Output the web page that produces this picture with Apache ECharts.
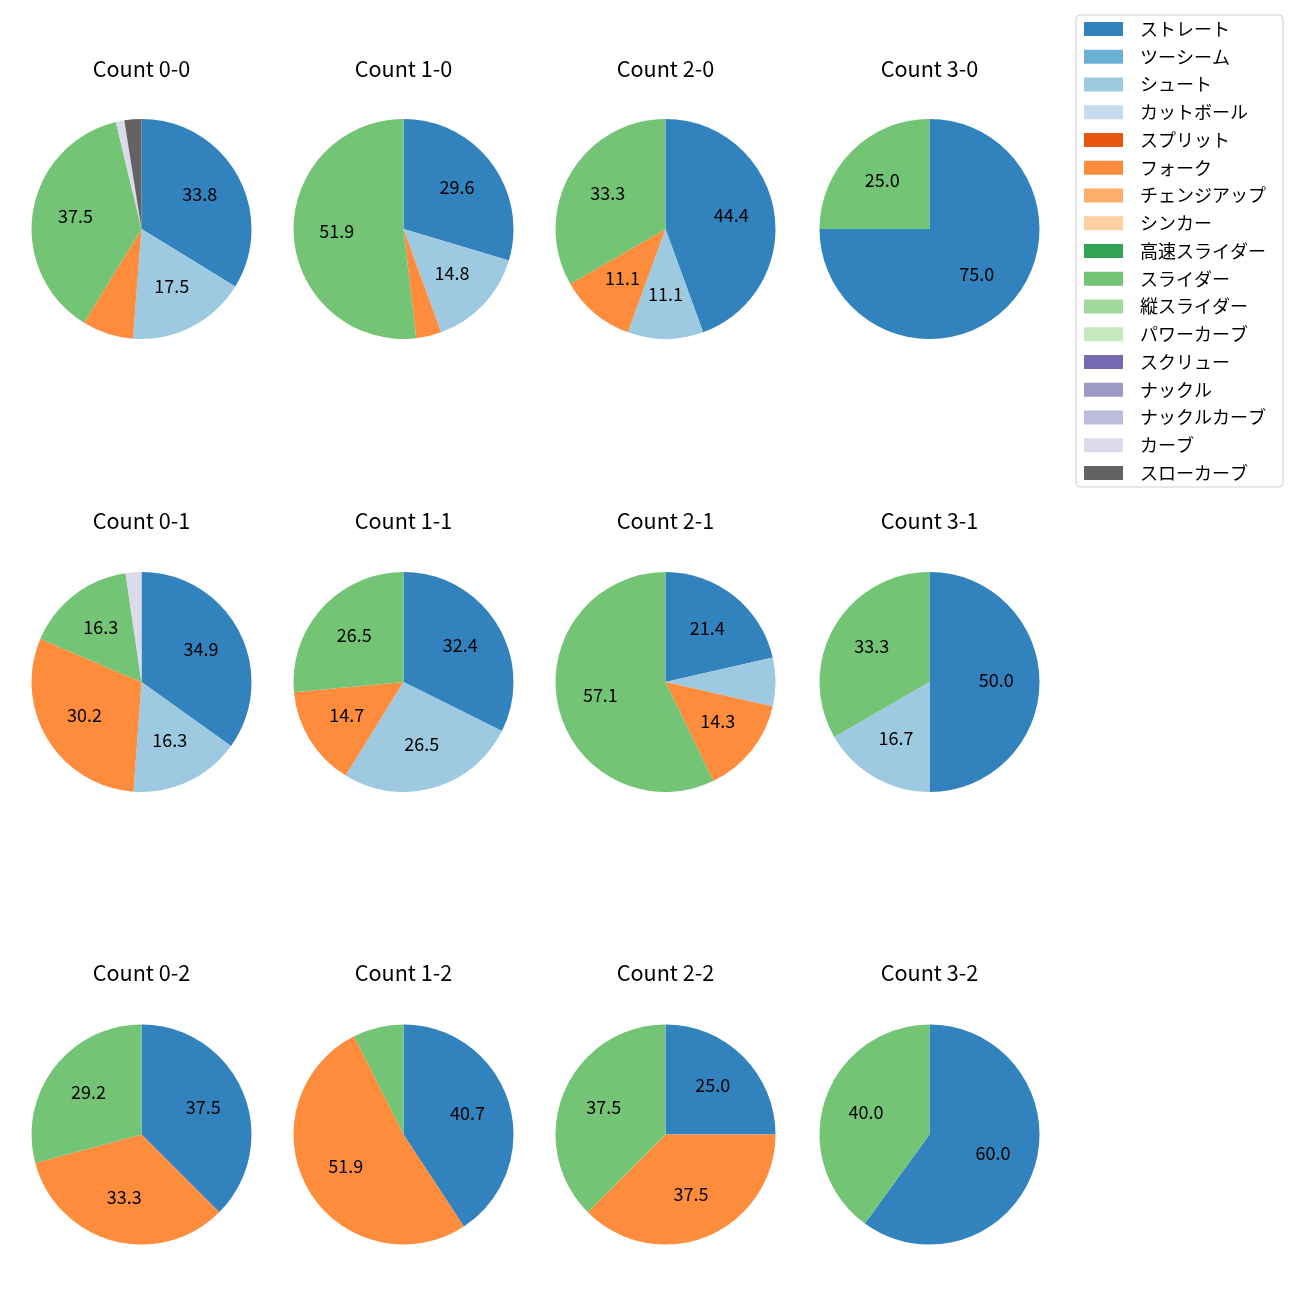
<!DOCTYPE html>
<html>
<head>
<meta charset="utf-8">
<script src="https://cdn.jsdelivr.net/npm/echarts@6/dist/echarts.min.js"></script>
<style>html,body{margin:0;padding:0;background:#fff;}#c{width:1300px;height:1300px;}</style>
</head>
<body>
<div id="c"></div>
<script>
const pitchTypes = ['ストレート','ツーシーム','シュート','カットボール','スプリット','フォーク','チェンジアップ','シンカー','高速スライダー','スライダー','縦スライダー','パワーカーブ','スクリュー','ナックル','ナックルカーブ','カーブ','スローカーブ'];
const colors = ['#3182bd','#6baed6','#9ecae1','#c6dbef','#e6550d','#fd8d3c','#fdae6b','#fdd0a2','#31a354','#74c476','#a1d99b','#c7e9c0','#756bb1','#9e9ac8','#bcbddc','#dadaeb','#636363'];

const countTitles = ['Count 0-0','Count 1-0','Count 2-0','Count 3-0','Count 0-1','Count 1-1','Count 2-1','Count 3-1','Count 0-2','Count 1-2','Count 2-2','Count 3-2'];
//                 St Tw Sh Ct Sp Fk Ch Si HS Sl VS PC Sc Kn KC Cv SC
const count00 = [27, 0,14, 0, 0, 6, 0, 0, 0,30, 0, 0, 0, 0, 0, 1, 2];
const count10 = [ 8, 0, 4, 0, 0, 1, 0, 0, 0,14, 0, 0, 0, 0, 0, 0, 0];
const count20 = [ 4, 0, 1, 0, 0, 1, 0, 0, 0, 3, 0, 0, 0, 0, 0, 0, 0];
const count30 = [ 3, 0, 0, 0, 0, 0, 0, 0, 0, 1, 0, 0, 0, 0, 0, 0, 0];
const count01 = [15, 0, 7, 0, 0,13, 0, 0, 0, 7, 0, 0, 0, 0, 0, 1, 0];
const count11 = [11, 0, 9, 0, 0, 5, 0, 0, 0, 9, 0, 0, 0, 0, 0, 0, 0];
const count21 = [ 3, 0, 1, 0, 0, 2, 0, 0, 0, 8, 0, 0, 0, 0, 0, 0, 0];
const count31 = [ 3, 0, 1, 0, 0, 0, 0, 0, 0, 2, 0, 0, 0, 0, 0, 0, 0];
const count02 = [ 9, 0, 0, 0, 0, 8, 0, 0, 0, 7, 0, 0, 0, 0, 0, 0, 0];
const count12 = [11, 0, 0, 0, 0,14, 0, 0, 0, 2, 0, 0, 0, 0, 0, 0, 0];
const count22 = [ 2, 0, 0, 0, 0, 3, 0, 0, 0, 3, 0, 0, 0, 0, 0, 0, 0];
const count32 = [ 3, 0, 0, 0, 0, 0, 0, 0, 0, 2, 0, 0, 0, 0, 0, 0, 0];
const countValues = [count00,count10,count20,count30,count01,count11,count21,count31,count02,count12,count22,count32];

const colX = [141.5, 403.5, 665.5, 929.5];
const rowY = [229, 682, 1134.5];
const titleY = [69, 521, 973];
const R = 110;
const FONT = '"Noto Sans CJK JP","Noto Sans",sans-serif';

const pieSeries = [];
const labelSeries = [];
const graphics = [];
countValues.forEach((vals, i) => {
  const cx = colX[i % 4], cy = rowY[Math.floor(i / 4)];
  const total = vals.reduce((a, b) => a + b, 0);
  const data = pitchTypes.map((n, k) => ({ name: n, value: vals[k], itemStyle: { color: colors[k] } }));
  pieSeries.push({
    type: 'pie', center: [cx, cy], radius: [0, R], startAngle: 90, clockwise: true,
    silent: true, animation: false, label: { show: false }, labelLine: { show: false },
    itemStyle: { borderWidth: 0 }, emphasis: { disabled: true }, data: data
  });
  labelSeries.push({
    type: 'pie', center: [cx, cy], radius: [R * 0.16, R], startAngle: 90, clockwise: true,
    silent: true, animation: false, labelLine: { show: false },
    itemStyle: { color: 'rgba(0,0,0,0)', borderWidth: 0 }, emphasis: { disabled: true },
    label: {
      show: true, position: 'inside', color: '#000', fontSize: 18, fontFamily: FONT, offset: [0, -2],
      formatter: p => { const pct = p.value / total * 100; return pct >= 10 ? pct.toFixed(1) : ''; }
    },
    data: pitchTypes.map((n, k) => ({ name: n, value: vals[k] }))
  });
  graphics.push({
    type: 'text', x: cx, y: titleY[Math.floor(i / 4)],
    style: { text: countTitles[i], textAlign: 'center', textVerticalAlign: 'middle', fill: '#000', font: '21.6px ' + FONT }
  });
});

const chart = echarts.init(document.getElementById('c'), null, { renderer: 'canvas' });
chart.setOption({
  backgroundColor: '#fff',
  animation: false,
  graphic: graphics,
  legend: {
    orient: 'vertical', left: 1076, top: 15,
    data: pitchTypes, selectedMode: false,
    icon: 'rect', itemWidth: 39, itemHeight: 14, itemGap: 9.75,
    padding: [5, 17, 5, 8],
    borderColor: '#d0d0d0', borderWidth: 1, borderRadius: 4,
    textStyle: { fontSize: 18, color: '#000', fontFamily: FONT, padding: [0, 0, 0, 12] }
  },
  series: pieSeries.concat(labelSeries)
});
</script>
</body>
</html>
